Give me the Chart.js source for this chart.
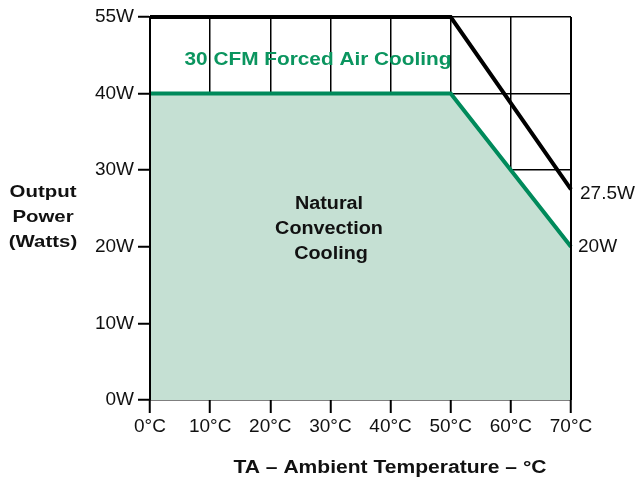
<!DOCTYPE html>
<html>
<head>
<meta charset="utf-8">
<script src="https://cdn.jsdelivr.net/npm/chart.js@4.4.1/dist/chart.umd.min.js"></script>
<style>
  html, body { margin: 0; padding: 0; background: #fff; }
  canvas { display: block; }
</style>
</head>
<body>
<canvas id="chart" width="641" height="480"></canvas>
<script>
// breakpoints of the two derating curves (ambient temp in °C, power in W)
const tempC = [0, 50, 70];
const forcedAirW = [55, 55, 27.5];
const naturalW = [40, 40, 20];

const xTickLabels = ['0°C', '10°C', '20°C', '30°C', '40°C', '50°C', '60°C', '70°C'];
const yTickLabels = ['0W', '10W', '20W', '30W', '40W', '55W'];

// the original chart squeezes the 40..55W band into one grid step
function wattsToAxis(w) {
    return w <= 40 ? w : 40 + (w - 40) * 10 / 15;
}

const GREEN = '#008a5b';
const GREEN_TEXT = '#0b955f';
const FILL = '#c5e0d3';
const FONT = '"Liberation Sans", Arial, sans-serif';

function stretchedText(ctx, text, cx, cy, size, sx, color, bold) {
    ctx.save();
    ctx.font = (bold ? 'bold ' : '') + size + 'px ' + FONT;
    ctx.fillStyle = color;
    ctx.textAlign = 'center';
    ctx.textBaseline = 'middle';
    ctx.translate(cx, cy);
    ctx.scale(sx, 1);
    ctx.fillText(text, 0, 0);
    ctx.restore();
}

const annotations = {
    id: 'annotations',
    afterDatasetsDraw(chart) {
        const ctx = chart.ctx;
        const xs = chart.scales.x, ys = chart.scales.y;
        const a = chart.chartArea;

        // plot frame left/right over the fill
        ctx.save();
        ctx.strokeStyle = '#000';
        ctx.lineWidth = 2;
        ctx.beginPath();
        ctx.moveTo(a.left, a.top);
        ctx.lineTo(a.left, a.bottom);
        ctx.moveTo(a.right, a.top);
        ctx.lineTo(a.right, a.bottom);
        ctx.stroke();
        ctx.restore();

        stretchedText(ctx, '30 CFM Forced Air Cooling', 318, 60, 19, 1.095, GREEN_TEXT, true);
        stretchedText(ctx, 'Natural', 329, 204, 18, 1.1, '#111', true);
        stretchedText(ctx, 'Convection', 329, 229, 18, 1.1, '#111', true);
        stretchedText(ctx, 'Cooling', 331, 254, 18, 1.1, '#111', true);

        stretchedText(ctx, 'Output', 43, 192, 17, 1.2, '#111', true);
        stretchedText(ctx, 'Power', 43, 217, 17, 1.2, '#111', true);
        stretchedText(ctx, '(Watts)', 43, 242, 17, 1.2, '#111', true);

        stretchedText(ctx, 'TA – Ambient Temperature – °C', 390, 468, 18, 1.17, '#111', true);

        // end-point labels
        const last = tempC.length - 1;
        const px = xs.getPixelForValue(tempC[last]);
        ctx.save();
        ctx.font = '19px ' + FONT;
        ctx.fillStyle = '#111';
        ctx.textBaseline = 'middle';
        ctx.textAlign = 'left';
        ctx.fillText(forcedAirW[last] + 'W', px + 9, ys.getPixelForValue(wattsToAxis(forcedAirW[last])) + 4);
        ctx.fillText(naturalW[last] + 'W', px + 7, ys.getPixelForValue(wattsToAxis(naturalW[last])));
        ctx.restore();
    }
};

new Chart(document.getElementById('chart'), {
    type: 'line',
    data: {
        datasets: [
            {
                label: 'Natural Convection Cooling',
                data: tempC.map((t, i) => ({ x: t, y: wattsToAxis(naturalW[i]) })),
                borderColor: GREEN,
                borderWidth: 4,
                backgroundColor: FILL,
                fill: 'origin',
                pointRadius: 0,
                tension: 0,
                borderJoinStyle: 'miter',
                clip: 6
            },
            {
                label: '30 CFM Forced Air Cooling',
                data: tempC.map((t, i) => ({ x: t, y: wattsToAxis(forcedAirW[i]) })),
                borderColor: '#000',
                borderWidth: 4,
                fill: false,
                pointRadius: 0,
                tension: 0,
                borderJoinStyle: 'miter',
                clip: 6
            }
        ]
    },
    options: {
        responsive: false,
        animation: false,
        layout: { padding: { top: 17, right: 70, left: 0, bottom: 0 } },
        plugins: {
            legend: { display: false },
            tooltip: { enabled: false }
        },
        scales: {
            x: {
                type: 'linear',
                min: 0,
                max: 70,
                afterFit(scale) { scale.height = 80; },
                grid: {
                    color: '#000',
                    lineWidth: 1.5,
                    drawTicks: true,
                    tickLength: 13,
                    tickColor: '#000',
                    tickWidth: 2
                },
                border: { display: false },
                ticks: {
                    stepSize: 10,
                    padding: 2,
                    maxRotation: 0,
                    color: '#111',
                    font: { family: FONT, size: 19 },
                    callback: (v) => xTickLabels[v / 10]
                }
            },
            y: {
                type: 'linear',
                min: 0,
                max: 50,
                afterFit(scale) { scale.width = 150; },
                grid: {
                    color: '#000',
                    lineWidth: 1.5,
                    drawTicks: true,
                    tickLength: 12,
                    tickColor: '#000',
                    tickWidth: 2
                },
                border: { display: true, color: '#000', width: 2 },
                ticks: {
                    stepSize: 10,
                    padding: 4,
                    color: '#111',
                    font: { family: FONT, size: 19 },
                    callback: (v) => yTickLabels[v / 10]
                }
            }
        }
    },
    plugins: [annotations]
});
</script>
</body>
</html>
